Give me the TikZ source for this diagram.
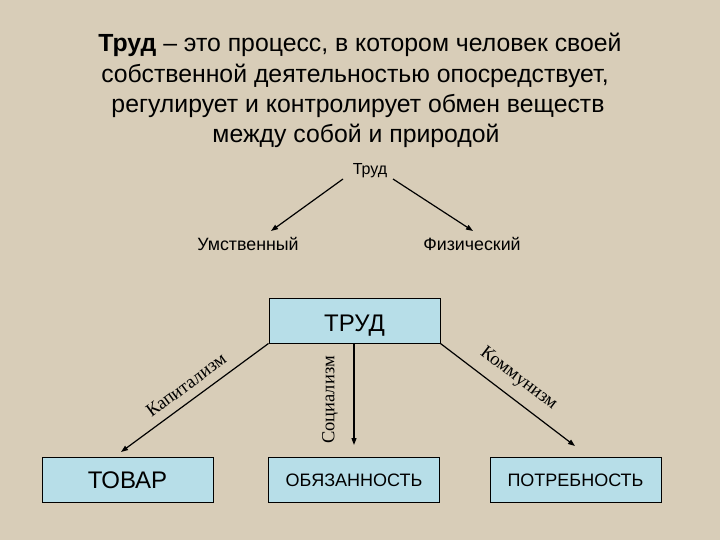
\documentclass[tikz,border=0pt]{standalone}
\usepackage{fontspec}
\setmainfont{Liberation Sans}
\newfontfamily\serifru{Liberation Serif}
\usetikzlibrary{arrows.meta}
\definecolor{bgcol}{RGB}{216,205,184}
\definecolor{boxcol}{RGB}{183,222,232}
\tikzset{
  fs/.style={font=\fontsize{#1}{#1}\selectfont},
  tline/.style={anchor=base, inner sep=0pt, fs=24.8},
  plain/.style={anchor=base, inner sep=0pt},
  bluebox/.style={draw=black, line width=1pt, fill=boxcol, minimum width=171pt, minimum height=45pt, inner sep=0pt, text depth=0pt},
  arr/.style={line width=1.2pt, -{Triangle[length=7pt,width=5pt]}},
  slant/.style={inner sep=0pt, font=\serifru\fontsize{18.5}{18.5}\selectfont}
}
\begin{document}
\begin{tikzpicture}[x=1pt,y=-1pt]
\fill[bgcol] (0,0) rectangle (720,540);
\useasboundingbox (0,0) rectangle (720,540);
% title
\node[tline] (t1) at (360,52) {\textbf{Труд} – это процесс, в котором человек своей};
\node[tline] (t2) at (355,83) {собственной деятельностью опосредствует,};
\node[tline] (t3) at (358,113) {регулирует и контролирует обмен веществ};
\node[tline] (t4) at (356,143) {между собой и природой};
% small tree
\node[plain, fs=16] (tr) at (370,175) {Труд};
\node[plain, fs=17.8] (um) at (248,250) {Умственный};
\node[plain, fs=17.8] (fi) at (472,250) {Физический};
\coordinate (a1s) at (343,179);
\coordinate (a1e) at (271,231);
\coordinate (a2s) at (393,179);
\coordinate (a2e) at (473,231);
\draw[arr] (a1s) -- (a1e);
\draw[arr] (a2s) -- (a2e);
% boxes
\node[bluebox, fs=24, text height=22pt] (trud) at (354.5,320.5) {ТРУД};
\node[bluebox, fs=24, text height=17pt] (tovar) at (127.5,479.5) {ТОВАР};
\node[bluebox, fs=18, text height=14.4pt] (obyaz) at (354,479.5) {ОБЯЗАННОСТЬ};
\node[bluebox, fs=18, text height=14.4pt] (potr) at (575.5,479.5) {ПОТРЕБНОСТЬ};
\coordinate (e1) at (121,452);
\coordinate (e2) at (354,445);
\coordinate (e3) at (575,446);
\draw[arr] (trud.south west) -- (e1);
\draw[arr] (trud.south -| e2) -- (e2);
\draw[arr] (trud.south east) -- (e3);
% labels
\node[slant, rotate=36.4] (kap) at (186,385) {Капитализм};
\node[slant, rotate=90] (soc) at (330,400) {Социализм};
\node[slant, rotate=-37.3] (kom) at (518.5,379) {Коммунизм};
\end{tikzpicture}
\end{document}
